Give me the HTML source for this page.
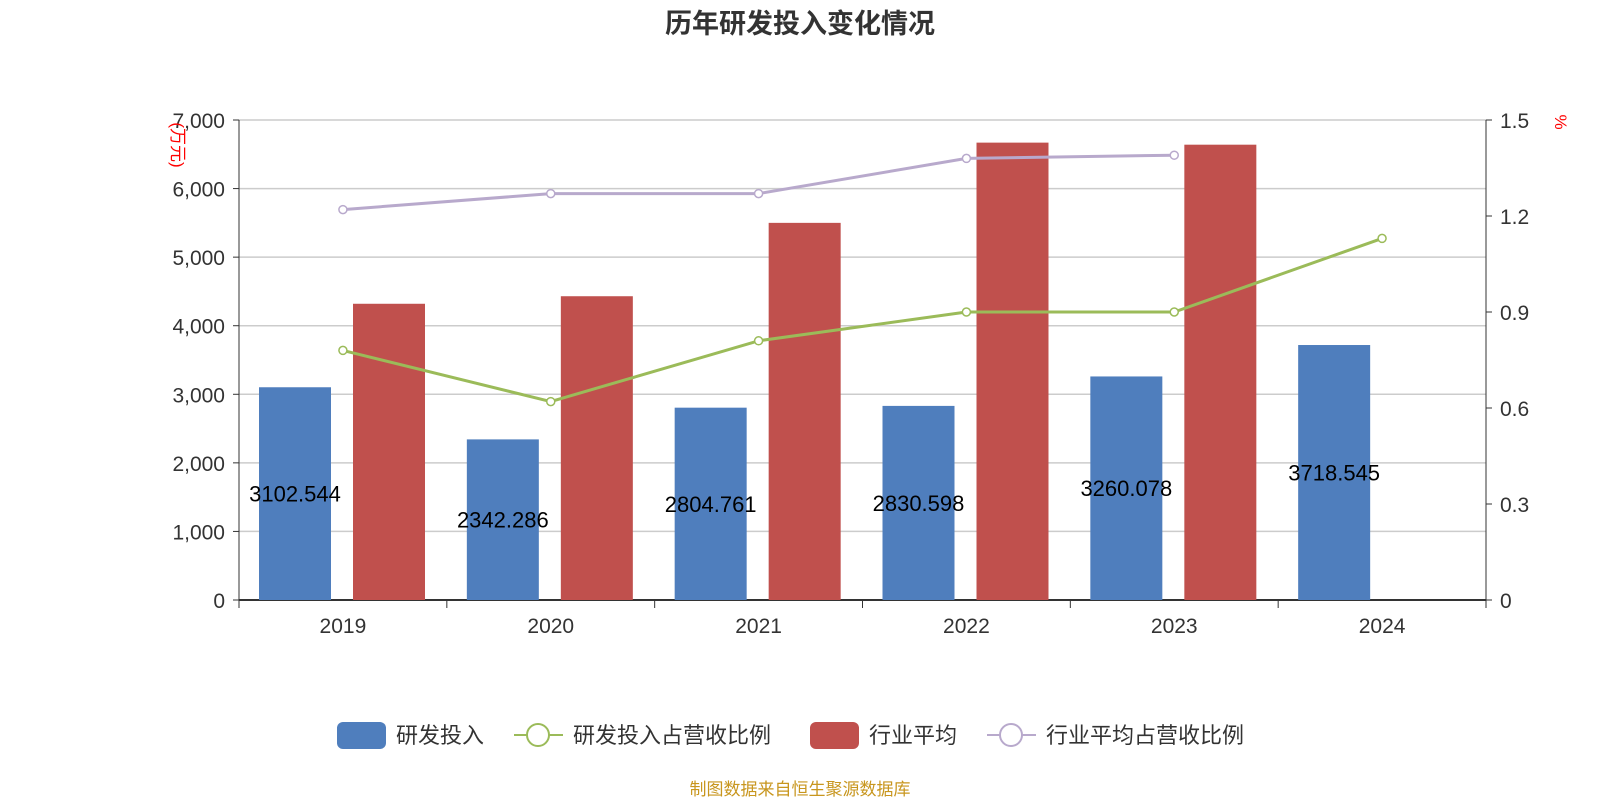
<!DOCTYPE html>
<html><head><meta charset="utf-8"><style>
body{margin:0;background:#fff;width:1600px;height:800px;overflow:hidden}
text{font-family:"Liberation Sans","Noto Sans CJK SC",sans-serif}
</style></head><body>
<svg id="s" width="1600" height="800" xmlns="http://www.w3.org/2000/svg"></svg>
<script>
const s=document.getElementById('s');let h='';
const L=239,R=1486,T=120,B=600,W=(R-L)/6;
const y=v=>B-v/7000*480, yp=p=>B-p/1.5*480;
h+=`<text x="800" y="33" text-anchor="middle" font-size="27" font-weight="bold" fill="#333">历年研发投入变化情况</text>`;
for(let i=0;i<=7;i++){const yy=y(i*1000);
 if(i>0)h+=`<line x1="${L}" x2="${R}" y1="${yy}" y2="${yy}" stroke="#ccc" stroke-width="1.5"/>`;
 h+=`<line x1="${L-6}" x2="${L}" y1="${yy}" y2="${yy}" stroke="#333"/>`;
 h+=`<text x="${L-14}" y="${yy+8}" text-anchor="end" font-size="21" fill="#333">${i==0?'0':i+',000'}</text>`;
 const p=(i*0.3);if(i<=5){const y2=yp(p);h+=`<line x1="${R}" x2="${R+6}" y1="${y2}" y2="${y2}" stroke="#333"/><text x="${R+14}" y="${y2+8}" font-size="21" fill="#333">${i==0?'0':p.toFixed(1)}</text>`;}
}
h+=`<line x1="${L}" x2="${L}" y1="${T}" y2="${B}" stroke="#333"/><line x1="${R}" x2="${R}" y1="${T}" y2="${B}" stroke="#333"/><line x1="${L}" x2="${R}" y1="${B}" y2="${B}" stroke="#333" stroke-width="2"/>`;
h+=`<text transform="translate(172,145) rotate(90)" font-size="17" fill="red" text-anchor="middle">(万元)</text>`;
h+=`<text transform="translate(1555,122) rotate(90)" font-size="17" fill="red" text-anchor="middle">%</text>`;
const b=[3102.544,2342.286,2804.761,2830.598,3260.078,3718.545],r=[4320,4430,5500,6670,6640],g=[0.78,0.62,0.81,0.90,0.90,1.13],pu=[1.22,1.27,1.27,1.38,1.39];
const yrs=[2019,2020,2021,2022,2023,2024];
for(let i=0;i<6;i++){const x0=L+i*W;
 h+=`<line x1="${x0}" x2="${x0}" y1="${B}" y2="${B+8}" stroke="#333"/>`;
 h+=`<text x="${x0+W/2}" y="${B+33}" text-anchor="middle" font-size="21" fill="#333">${yrs[i]}</text>`;
 h+=`<rect x="${x0+20}" y="${y(b[i])}" width="72" height="${B-y(b[i])}" fill="#4f7ebd"/>`;
 if(i<5)h+=`<rect x="${x0+114}" y="${y(r[i])}" width="72" height="${B-y(r[i])}" fill="#c0504d"/>`;
}
h+=`<line x1="${R}" x2="${R}" y1="${B}" y2="${B+8}" stroke="#333"/>`;
const cx=i=>L+i*W+W/2;
h+=`<polyline fill="none" stroke="#b8a9cc" stroke-width="3" points="${pu.map((p,i)=>cx(i)+','+yp(p)).join(' ')}"/>`;
h+=`<polyline fill="none" stroke="#9bbb59" stroke-width="3" points="${g.map((p,i)=>cx(i)+','+yp(p)).join(' ')}"/>`;
pu.forEach((p,i)=>h+=`<circle cx="${cx(i)}" cy="${yp(p)}" r="4" fill="#fff" stroke="#b8a9cc" stroke-width="1.5"/>`);
g.forEach((p,i)=>h+=`<circle cx="${cx(i)}" cy="${yp(p)}" r="4" fill="#fff" stroke="#9bbb59" stroke-width="1.5"/>`);
b.forEach((v,i)=>h+=`<text x="${L+i*W+56}" y="${(y(v)+B)/2+8}" text-anchor="middle" font-size="22" fill="#000">${v.toFixed(3)}</text>`);
h+=`<rect x="337" y="722" width="49" height="27" rx="6" fill="#4f7ebd"/><text x="396" y="743" font-size="22" fill="#333">研发投入</text>`;
h+=`<line x1="514" x2="563" y1="735" y2="735" stroke="#9bbb59" stroke-width="2"/><circle cx="538" cy="735" r="11" fill="#fff" stroke="#9bbb59" stroke-width="2"/><text x="573" y="743" font-size="22" fill="#333">研发投入占营收比例</text>`;
h+=`<rect x="810" y="722" width="49" height="27" rx="6" fill="#c0504d"/><text x="869" y="743" font-size="22" fill="#333">行业平均</text>`;
h+=`<line x1="987" x2="1036" y1="735" y2="735" stroke="#b8a9cc" stroke-width="2"/><circle cx="1011" cy="735" r="11" fill="#fff" stroke="#b8a9cc" stroke-width="2"/><text x="1046" y="743" font-size="22" fill="#333">行业平均占营收比例</text>`;
h+=`<text x="800" y="795" text-anchor="middle" font-size="17" fill="#c8961e">制图数据来自恒生聚源数据库</text>`;
s.innerHTML=h;
</script>
</body></html>
